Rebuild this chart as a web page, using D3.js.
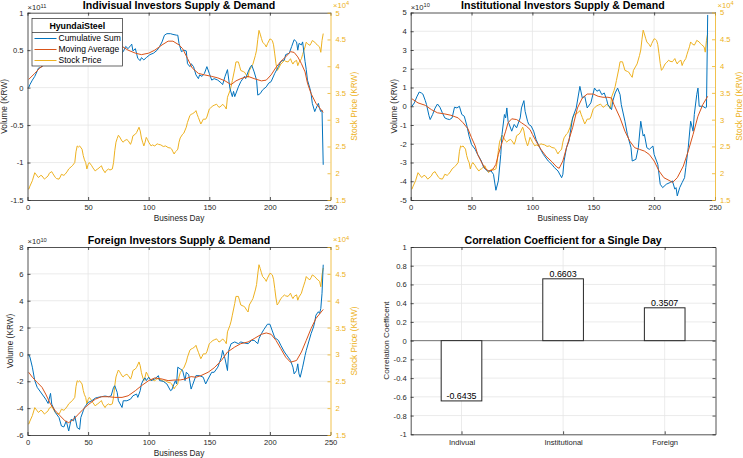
<!DOCTYPE html>
<html><head><meta charset="utf-8">
<script src="https://cdn.jsdelivr.net/npm/d3@7"></script>
<style>html,body{margin:0;padding:0;background:#fff;}svg{display:block;}</style>
</head><body>
<script>
// ---------------- DATA ----------------
const dayTicks = [0, 50, 100, 150, 200, 250];
const priceTicks = [1.5, 2, 2.5, 3, 3.5, 4, 4.5, 5];
const indivTicks = [-1.5, -1, -0.5, 0, 0.5, 1];
const instTicks = [-5, -4, -3, -2, -1, 0, 1, 2, 3, 4, 5];
const forTicks = [-6, -4, -2, 0, 2, 4, 6, 8];
const corrTicks = [-1, -0.8, -0.6, -0.4, -0.2, 0, 0.2, 0.4, 0.6, 0.8, 1];
const seriesNames = ["Cumulative Sum", "Moving Average", "Stock Price"];
const legendTitle = "HyundaiSteel";
const titles = ["Indivisual Investors Supply & Demand", "Institutional Investors Supply & Demand",
  "Foreign Investors Supply & Demand", "Correlation Coefficient for a Single Day"];
const corrCategories = ["Indivual", "Institutional", "Foreign"];
const corrValues = [-0.6435, 0.6603, 0.3507];

// stock price, x10^4 KRW  [business day, value]
const priceData = [[1,1.70],[2,1.76],[4,1.86],[6,2.01],[8,1.95],[9,1.92],[11,1.96],[12,1.95],[14,1.89],[15,1.91],[17,1.95],[18,2.00],[20,2.03],[21,1.99],[23,1.92],[24,1.90],[26,1.89],[27,1.93],[28,1.98],[30,1.96],[31,1.98],[33,2.04],[34,2.08],[36,2.12],[37,2.14],[39,2.20],[40,2.40],[41,2.51],[42,2.49],[43,2.51],[45,2.45],[46,2.33],[47,2.25],[48,2.20],[49,2.08],[50,2.16],[51,2.20],[53,2.14],[54,2.10],[56,2.04],[57,2.07],[58,2.08],[60,2.12],[61,2.14],[62,2.08],[64,2.01],[65,2.05],[67,2.08],[68,2.06],[70,2.08],[71,2.20],[72,2.42],[73,2.58],[74,2.65],[75,2.71],[76,2.68],[77,2.64],[78,2.60],[79,2.58],[80,2.61],[82,2.63],[83,2.61],[85,2.54],[86,2.60],[87,2.70],[89,2.73],[90,2.76],[92,2.86],[93,2.79],[94,2.66],[95,2.58],[96,2.51],[97,2.58],[98,2.67],[99,2.63],[100,2.58],[102,2.51],[103,2.53],[105,2.51],[107,2.55],[108,2.54],[110,2.53],[112,2.50],[114,2.51],[116,2.48],[118,2.47],[119,2.45],[120,2.40],[121,2.36],[122,2.40],[123,2.42],[124,2.45],[125,2.58],[126,2.66],[128,2.73],[129,2.75],[131,2.86],[132,2.95],[134,3.08],[135,3.10],[136,3.11],[138,3.14],[139,3.17],[140,3.10],[141,3.04],[143,2.92],[144,2.96],[145,3.01],[147,3.01],[148,3.05],[150,3.20],[151,3.22],[153,3.26],[154,3.27],[156,3.29],[157,3.26],[158,3.23],[160,3.26],[161,3.29],[163,3.24],[164,3.20],[165,3.42],[167,3.54],[168,3.62],[169,3.73],[171,3.95],[172,4.08],[174,4.08],[175,4.00],[176,3.92],[178,3.90],[179,3.89],[181,3.82],[182,3.79],[183,3.92],[185,4.00],[186,4.04],[188,4.20],[189,4.30],[190,4.50],[191,4.67],[192,4.60],[193,4.52],[194,4.45],[196,4.40],[197,4.36],[198,4.42],[200,4.51],[201,4.50],[202,4.48],[203,4.40],[204,4.23],[205,4.05],[206,3.92],[207,3.95],[209,4.04],[210,4.06],[212,4.11],[213,4.09],[215,4.08],[216,4.11],[217,4.14],[218,4.08],[219,4.04],[220,4.08],[222,4.11],[223,4.01],[224,4.07],[226,4.14],[227,4.22],[228,4.29],[229,4.36],[230,4.45],[231,4.42],[233,4.39],[234,4.43],[235,4.48],[237,4.45],[238,4.42],[239,4.40],[241,4.36],[242,4.26],[243,4.48],[244,4.61]];

// individual investors, x10^11 KRW
const indivCum = [[1,0.00],[2,0.04],[4,0.10],[6,0.15],[8,0.22],[9,0.26],[11,0.27],[13,0.30],[15,0.34],[17,0.38],[19,0.41],[21,0.44],[24,0.47],[27,0.51],[30,0.55],[33,0.58],[36,0.61],[39,0.64],[42,0.67],[45,0.70],[48,0.67],[51,0.66],[54,0.70],[57,0.72],[60,0.68],[63,0.64],[66,0.61],[69,0.57],[72,0.53],[75,0.50],[77,0.46],[79,0.48],[81,0.55],[83,0.52],[85,0.56],[86,0.58],[87,0.49],[89,0.52],[91,0.39],[93,0.36],[94,0.40],[96,0.37],[98,0.40],[101,0.44],[104,0.46],[107,0.50],[109,0.55],[111,0.61],[113,0.70],[115,0.72],[118,0.72],[120,0.71],[123,0.70],[124,0.70],[125,0.59],[127,0.48],[129,0.50],[131,0.49],[132,0.32],[134,0.28],[135,0.32],[137,0.28],[139,0.17],[141,0.12],[142,0.17],[144,0.15],[146,0.19],[148,0.28],[150,0.19],[152,0.10],[154,0.12],[157,0.10],[160,0.06],[161,0.04],[163,0.15],[165,0.24],[167,-0.01],[169,-0.12],[170,-0.05],[171,-0.12],[174,0.01],[176,0.08],[179,0.15],[180,0.12],[182,0.21],[184,0.28],[185,0.30],[187,0.21],[189,0.10],[190,-0.10],[192,-0.08],[194,-0.03],[197,0.01],[199,0.06],[201,0.08],[204,0.19],[207,0.28],[209,0.35],[212,0.37],[213,0.44],[216,0.46],[218,0.55],[220,0.64],[222,0.61],[223,0.50],[224,0.59],[226,0.57],[227,0.61],[229,0.35],[230,0.24],[231,0.10],[233,-0.01],[234,-0.08],[235,-0.21],[237,-0.32],[238,-0.28],[240,-0.21],[241,-0.28],[242,-0.32],[243,-0.30],[244,-1.03]];
const indivMA = [[1,0.11],[6,0.19],[10,0.26],[15,0.32],[20,0.37],[30,0.45],[40,0.51],[50,0.55],[60,0.57],[70,0.57],[78,0.55],[83,0.50],[89,0.46],[94,0.44],[100,0.46],[105,0.50],[111,0.57],[116,0.62],[120,0.62],[125,0.57],[128,0.52],[132,0.39],[136,0.26],[141,0.19],[146,0.17],[152,0.15],[157,0.13],[163,0.09],[168,0.04],[172,0.09],[176,0.12],[182,0.15],[187,0.12],[193,0.09],[197,0.10],[201,0.17],[205,0.27],[209,0.35],[213,0.41],[217,0.48],[220,0.47],[223,0.41],[226,0.32],[229,0.21],[231,0.06],[234,-0.08],[238,-0.21],[244,-0.33]];

// institutional investors, x10^10 KRW
const instCum = [[1,0.0],[3,0.18],[5,0.50],[7,0.76],[9,0.70],[10,0.65],[12,0.30],[13,0.09],[15,-0.50],[16,-0.71],[18,-0.44],[20,-0.10],[22,0.12],[24,-0.05],[26,-0.35],[28,-0.62],[30,-0.68],[32,-0.71],[34,-0.62],[36,-0.05],[38,-0.09],[40,0.0],[42,-0.44],[44,-0.53],[46,-1.0],[48,-1.6],[50,-2.04],[53,-2.30],[55,-2.57],[58,-2.92],[60,-3.27],[63,-3.45],[66,-3.45],[68,-3.63],[70,-4.48],[72,-3.98],[74,-2.57],[75,-1.50],[77,-0.44],[78,-0.62],[79,-0.09],[80,-0.80],[83,-1.33],[85,-0.97],[87,-1.15],[90,-0.62],[91,-0.09],[93,0.30],[94,-0.27],[96,-0.80],[97,-0.97],[99,-1.06],[101,-1.33],[103,-1.77],[106,-2.21],[109,-2.57],[113,-2.92],[116,-3.10],[118,-3.27],[121,-3.45],[124,-3.81],[125,-3.63],[126,-2.92],[128,-2.21],[130,-1.86],[133,-0.62],[136,-0.09],[139,1.06],[141,0.44],[143,0.53],[145,-0.09],[148,0.18],[151,0.97],[153,0.80],[155,0.88],[157,0.62],[159,0.71],[161,0.35],[162,0.09],[165,-0.18],[166,0.27],[168,0.71],[170,0.97],[172,0.62],[173,0.09],[176,-0.80],[178,-1.50],[181,-2.21],[182,-2.92],[185,-2.83],[187,-2.21],[189,-0.80],[191,-1.59],[192,-1.50],[194,-2.21],[196,-2.30],[199,-2.12],[200,-2.57],[203,-3.10],[205,-4.16],[207,-4.34],[210,-4.16],[213,-4.07],[215,-3.98],[217,-4.42],[218,-4.34],[219,-4.78],[221,-4.34],[223,-4.07],[225,-3.81],[226,-3.27],[228,-2.21],[230,-0.80],[232,-1.33],[233,-0.44],[235,0.62],[236,0.97],[237,0.0],[240,0.0],[242,-0.09],[243,-0.05],[244,4.87]];
const instMA = [[1,0.40],[6,0.18],[12,0.05],[17,-0.18],[22,-0.35],[28,-0.41],[33,-0.48],[39,-0.62],[43,-0.88],[47,-1.2],[50,-1.68],[53,-2.12],[55,-2.57],[58,-2.96],[61,-3.31],[64,-3.45],[67,-3.42],[70,-3.10],[72,-2.57],[75,-1.95],[78,-1.33],[80,-0.88],[83,-0.67],[87,-0.71],[91,-0.88],[95,-1.06],[98,-1.24],[100,-1.50],[103,-1.86],[107,-2.30],[111,-2.65],[116,-2.96],[120,-3.24],[122,-3.31],[125,-2.92],[128,-2.21],[133,-1.15],[137,-0.09],[141,0.44],[145,0.65],[150,0.65],[154,0.53],[158,0.48],[162,0.48],[165,0.44],[167,0.09],[172,-0.62],[176,-1.33],[180,-1.86],[184,-2.21],[188,-2.30],[192,-2.39],[196,-2.57],[200,-2.92],[204,-3.45],[208,-3.81],[213,-3.98],[215,-4.07],[219,-3.81],[224,-3.19],[228,-2.39],[232,-1.50],[236,-0.53],[240,0.09],[244,0.53]];

// foreign investors, x10^10 KRW
const forCum = [[1,0.0],[2,-0.2],[4,-0.95],[6,-1.95],[8,-2.45],[12,-2.95],[15,-3.33],[17,-3.65],[19,-2.90],[20,-3.70],[23,-4.33],[26,-4.70],[28,-5.33],[30,-5.40],[32,-4.95],[34,-5.70],[36,-4.83],[38,-4.95],[39,-4.58],[41,-5.45],[43,-5.58],[44,-4.70],[46,-4.20],[47,-3.95],[50,-3.58],[53,-3.45],[56,-3.25],[58,-3.20],[61,-3.15],[64,-3.10],[67,-3.15],[69,-3.08],[71,-2.45],[72,-2.33],[74,-2.83],[75,-3.45],[78,-3.95],[79,-3.45],[82,-3.45],[85,-3.33],[87,-3.08],[90,-2.95],[91,-3.20],[93,-2.70],[94,-2.20],[96,-1.83],[97,-1.75],[98,-1.95],[100,-1.70],[102,-1.95],[105,-1.83],[108,-1.58],[109,-1.95],[112,-2.00],[115,-2.20],[118,-2.70],[119,-2.65],[122,-1.95],[123,-2.2],[124,-0.95],[126,-1.08],[128,-1.20],[130,-1.95],[131,-1.33],[133,-1.5],[135,-2.58],[136,-2.33],[139,-1.58],[142,-1.58],[145,-1.70],[147,-2.2],[149,-1.83],[152,-1.33],[154,-1.33],[157,-0.95],[160,-0.20],[161,0.30],[163,-0.33],[165,-1.20],[166,0.30],[168,0.80],[171,0.93],[174,0.80],[176,0.93],[179,0.85],[182,0.80],[185,1.05],[187,1.05],[190,0.80],[191,1.18],[193,1.55],[195,1.85],[198,2.25],[200,2.25],[202,1.75],[204,1.25],[207,1.05],[209,0.68],[212,0.18],[215,-0.20],[217,-0.45],[219,-0.95],[220,-1.45],[222,-1.20],[223,-0.70],[224,-1.45],[225,-1.70],[227,-0.95],[229,-0.08],[230,0.30],[232,0.93],[234,1.55],[236,2.05],[237,2.43],[238,2.93],[240,3.18],[241,3.05],[242,3.43],[243,4.55],[244,6.68]];
const forMA = [[1,-1.33],[4,-1.70],[8,-2.08],[12,-2.45],[15,-2.95],[19,-3.70],[23,-4.20],[27,-4.58],[31,-4.95],[34,-5.08],[38,-4.83],[42,-4.45],[46,-4.08],[50,-3.75],[56,-3.33],[61,-3.15],[67,-3.15],[72,-3.20],[78,-3.20],[83,-3.08],[89,-2.70],[94,-2.33],[100,-1.95],[105,-1.75],[111,-1.83],[116,-1.95],[122,-1.90],[126,-1.90],[130,-1.83],[135,-1.65],[139,-1.70],[143,-1.58],[149,-1.33],[154,-1.00],[160,-0.45],[165,0.18],[171,0.55],[176,0.80],[182,0.93],[187,1.18],[193,1.50],[197,1.60],[201,1.50],[205,1.05],[209,0.43],[213,-0.20],[217,-0.58],[222,-0.45],[226,0.18],[230,1.05],[234,1.93],[238,2.68],[244,3.35]];

// ---------------- STYLE ----------------
const FONT = "'Liberation Sans', Arial, Helvetica, sans-serif";
const C_BLUE = "#0072BD", C_RED = "#D95319", C_YEL = "#EDB120";
const C_AX = "#262626", C_GRID = "#e6e6e6";
const TICK_FS = 7.6, LABEL_FS = 8.3, TITLE_FS = 10.6;
const fmt = d => String(d);

const svg = d3.select("body").append("svg").attr("width", 743).attr("height", 458)
  .style("font-family", FONT);

function styleAxis(sel, color) {
  sel.selectAll(".domain").attr("stroke", color).attr("stroke-width", 0.8);
  sel.selectAll(".tick line").attr("stroke", color).attr("stroke-width", 0.8);
  sel.selectAll(".tick text").attr("fill", color).style("font-size", TICK_FS + "px").style("font-family", FONT);
}

function expLabel(g, x, y, exp, color, anchor) {
  const t = g.append("text").attr("x", x).attr("y", y).attr("fill", color)
    .style("font-size", TICK_FS + "px").attr("text-anchor", anchor || "start");
  t.append("tspan").text("\u00d710");
  t.append("tspan").attr("dy", -2.5).style("font-size", (TICK_FS * 0.75) + "px").text(exp);
}

let clipId = 0;
function dualPlot(cfg) {
  const {x0, x1, y0, y1} = cfg.box;
  const g = svg.append("g");
  const x = d3.scaleLinear().domain([0, 250]).range([x0, x1]);
  const y = d3.scaleLinear().domain(cfg.yDomain).range([y1, y0]);
  const y2 = d3.scaleLinear().domain([1.5, 5]).range([y1, y0]);

  // grid
  g.append("g").selectAll("line").data(dayTicks.slice(1, -1)).join("line")
    .attr("x1", d => x(d)).attr("x2", d => x(d)).attr("y1", y0).attr("y2", y1)
    .attr("stroke", C_GRID).attr("stroke-width", 0.8);
  g.append("g").selectAll("line").data(cfg.yTicks.slice(1, -1)).join("line")
    .attr("y1", d => y(d)).attr("y2", d => y(d)).attr("x1", x0).attr("x2", x1)
    .attr("stroke", C_GRID).attr("stroke-width", 0.8);

  const id = "clip" + (clipId++);
  svg.append("clipPath").attr("id", id).append("rect")
    .attr("x", x0).attr("y", y0).attr("width", x1 - x0).attr("height", y1 - y0);
  const lg = g.append("g").attr("clip-path", `url(#${id})`);
  const line = sc => d3.line().x(d => x(d[0])).y(d => sc(d[1]));
  lg.append("path").datum(priceData).attr("d", line(y2)).attr("fill", "none")
    .attr("stroke", C_YEL).attr("stroke-width", 1);
  lg.append("path").datum(cfg.cum).attr("d", line(y)).attr("fill", "none")
    .attr("stroke", C_BLUE).attr("stroke-width", 1);
  lg.append("path").datum(cfg.ma).attr("d", line(y)).attr("fill", "none")
    .attr("stroke", C_RED).attr("stroke-width", 1);

  // axes
  const ax = g.append("g").attr("transform", `translate(0,${y1})`)
    .call(d3.axisBottom(x).tickValues(dayTicks).tickFormat(fmt).tickSize(-3).tickSizeOuter(0).tickPadding(4.5));
  styleAxis(ax, C_AX);
  const axT = g.append("g").attr("transform", `translate(0,${y0})`)
    .call(d3.axisTop(x).tickValues(dayTicks).tickFormat("").tickSize(-3).tickSizeOuter(0));
  styleAxis(axT, C_AX);
  const ay = g.append("g").attr("transform", `translate(${x0},0)`)
    .call(d3.axisLeft(y).tickValues(cfg.yTicks).tickFormat(fmt).tickSize(-3).tickSizeOuter(0).tickPadding(4));
  styleAxis(ay, C_AX);
  const ay2 = g.append("g").attr("transform", `translate(${x1},0)`)
    .call(d3.axisRight(y2).tickValues(priceTicks).tickFormat(fmt).tickSize(-3).tickSizeOuter(0).tickPadding(5));
  styleAxis(ay2, C_YEL);

  // labels
  g.append("text").attr("x", (x0 + x1) / 2).attr("y", y1 + 21).attr("text-anchor", "middle")
    .attr("fill", C_AX).style("font-size", LABEL_FS + "px").text("Business Day");
  g.append("text").attr("transform", `translate(${x0 - cfg.ylabOff},${(y0 + y1) / 2}) rotate(-90)`)
    .attr("text-anchor", "middle").attr("dy", "0.35em").attr("fill", C_AX)
    .style("font-size", LABEL_FS + "px").text("Volume (KRW)");
  g.append("text").attr("transform", `translate(${x1 + 24},${(y0 + y1) / 2}) rotate(-90)`)
    .attr("text-anchor", "middle").attr("dy", "0.35em").attr("fill", C_YEL)
    .style("font-size", LABEL_FS + "px").text("Stock Price (KRW)");
  g.append("text").attr("x", (x0 + x1) / 2).attr("y", y0 - 3.3).attr("text-anchor", "middle")
    .attr("fill", "#000").style("font-size", TITLE_FS + "px").style("font-weight", "bold").text(cfg.title);
  expLabel(g, x0, y0 - 2.6, cfg.exp, C_AX);
  expLabel(g, x1 + 2.5, y0 - 5, "4", C_YEL);
  return {g, x, y};
}

const p1 = dualPlot({box: {x0: 27.5, x1: 330.5, y0: 12.7, y1: 200}, yDomain: [-1.5, 1], yTicks: indivTicks,
  cum: indivCum, ma: indivMA, title: titles[0], exp: "11", ylabOff: 23});
dualPlot({box: {x0: 410.7, x1: 715, y0: 12.5, y1: 200}, yDomain: [-5, 5], yTicks: instTicks,
  cum: instCum, ma: instMA, title: titles[1], exp: "10", ylabOff: 17});
dualPlot({box: {x0: 27.5, x1: 330.5, y0: 247, y1: 435}, yDomain: [-6, 8], yTicks: forTicks,
  cum: forCum, ma: forMA, title: titles[2], exp: "10", ylabOff: 17});

// legend (top-left plot)
{
  const lg = p1.g.append("g");
  const lx = 32, ly = 18.5, lw = 90.5, lh = 47.5;
  lg.append("rect").attr("x", lx).attr("y", ly).attr("width", lw).attr("height", lh)
    .attr("fill", "#fff").attr("stroke", "#262626").attr("stroke-width", 0.7);
  lg.append("line").attr("x1", lx).attr("x2", lx + lw).attr("y1", ly + 14).attr("y2", ly + 14)
    .attr("stroke", "#262626").attr("stroke-width", 0.7);
  lg.append("text").attr("x", lx + lw / 2).attr("y", ly + 10.5).attr("text-anchor", "middle")
    .style("font-size", "8.8px").style("font-weight", "bold").attr("fill", "#000").text(legendTitle);
  const cols = [C_BLUE, C_RED, C_YEL];
  seriesNames.forEach((n, i) => {
    const yy = ly + 20 + i * 11;
    lg.append("line").attr("x1", lx + 2.5).attr("x2", lx + 24.5).attr("y1", yy).attr("y2", yy)
      .attr("stroke", cols[i]).attr("stroke-width", 1);
    lg.append("text").attr("x", lx + 26.5).attr("y", yy).attr("dy", "0.35em")
      .style("font-size", "8.5px").attr("fill", "#000").text(n);
  });
}

// ---------------- BAR CHART ----------------
{
  const x0 = 410.7, x1 = 715.5, y0 = 247, y1 = 434.3;
  const g = svg.append("g");
  const x = d3.scaleLinear().domain([0.5, 3.5]).range([x0, x1]);
  const y = d3.scaleLinear().domain([-1, 1]).range([y1, y0]);
  const idx = corrCategories.map((c, i) => i + 1);
  g.append("g").selectAll("line").data(idx).join("line")
    .attr("x1", d => x(d)).attr("x2", d => x(d)).attr("y1", y0).attr("y2", y1)
    .attr("stroke", C_GRID).attr("stroke-width", 0.8);
  g.append("g").selectAll("line").data(corrTicks.slice(1, -1)).join("line")
    .attr("y1", d => y(d)).attr("y2", d => y(d)).attr("x1", x0).attr("x2", x1)
    .attr("stroke", C_GRID).attr("stroke-width", 0.8);
  const bw = x(1.2) - x(1);
  g.append("line").attr("x1", x0).attr("x2", x1).attr("y1", y(0)).attr("y2", y(0))
    .attr("stroke", "#555").attr("stroke-width", 0.8);
  g.append("g").selectAll("rect").data(corrValues).join("rect")
    .attr("x", (d, i) => x(i + 1) - bw).attr("width", 2 * bw)
    .attr("y", d => Math.min(y(d), y(0))).attr("height", d => Math.abs(y(d) - y(0)))
    .attr("fill", "#fff").attr("stroke", "#262626").attr("stroke-width", 1);
  g.append("g").selectAll("text").data(corrValues).join("text")
    .attr("x", (d, i) => x(i + 1)).attr("y", d => y(d) - 2).attr("text-anchor", "middle")
    .style("font-size", "8.9px").attr("fill", "#000").text(d => d.toFixed(4));

  const ax = g.append("g").attr("transform", `translate(0,${y1})`)
    .call(d3.axisBottom(x).tickValues(idx).tickFormat((d) => corrCategories[d - 1]).tickSize(-3).tickSizeOuter(0).tickPadding(5));
  styleAxis(ax, C_AX);
  const axT = g.append("g").attr("transform", `translate(0,${y0})`)
    .call(d3.axisTop(x).tickValues(idx).tickFormat("").tickSize(-3).tickSizeOuter(0));
  styleAxis(axT, C_AX);
  const ay = g.append("g").attr("transform", `translate(${x0},0)`)
    .call(d3.axisLeft(y).tickValues(corrTicks).tickFormat(fmt).tickSize(-3).tickSizeOuter(0).tickPadding(4));
  styleAxis(ay, C_AX);
  const ayR = g.append("g").attr("transform", `translate(${x1},0)`)
    .call(d3.axisRight(y).tickValues(corrTicks).tickFormat("").tickSize(-3).tickSizeOuter(0));
  styleAxis(ayR, C_AX);
  g.append("text").attr("transform", `translate(${x0 - 24.5},${(y0 + y1) / 2}) rotate(-90)`)
    .attr("text-anchor", "middle").attr("dy", "0.35em").attr("fill", C_AX)
    .style("font-size", "8.1px").text("Correlation Coefficent");
  g.append("text").attr("x", (x0 + x1) / 2).attr("y", y0 - 3.3).attr("text-anchor", "middle")
    .attr("fill", "#000").style("font-size", TITLE_FS + "px").style("font-weight", "bold").text(titles[3]);
}
</script>
</body></html>
